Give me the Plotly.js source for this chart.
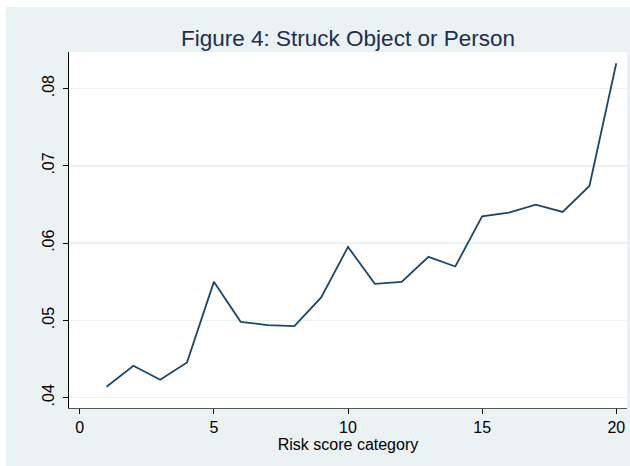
<!DOCTYPE html>
<html>
<head>
<meta charset="utf-8">
<script src="https://cdn.plot.ly/plotly-3.0.1.min.js"></script>
<style>
  html, body { margin: 0; padding: 0; background: #ffffff; }
  #chart { position: absolute; left: 6px; top: 7px; width: 624px; height: 459px; }
</style>
</head>
<body>
<div id="chart"></div>
<script>
const riskCategory = [1,2,3,4,5,6,7,8,9,10,11,12,13,14,15,16,17,18,19,20];
const struckRate = [0.04142,0.04413,0.04233,0.04457,0.05499,0.04982,0.04939,0.04926,0.05297,0.05951,
                    0.05473,0.05499,0.05822,0.05698,0.06348,0.06395,0.06499,0.06403,0.06739,0.08328];
const xTickVals = [0,5,10,15,20];
const yTickVals = [0.04,0.05,0.06,0.07,0.08];
const yTickText = [".04",".05",".06",".07",".08"];

const font = "'Liberation Sans', Arial, sans-serif";

Plotly.newPlot('chart', [{
  x: riskCategory,
  y: struckRate,
  type: 'scatter',
  mode: 'lines',
  line: {color: '#1a476f', width: 1.8},
  hoverinfo: 'skip'
}], {
  width: 624, height: 459,
  margin: {l: 63.3, r: 3.3, t: 44.7, b: 58, pad: 0},
  paper_bgcolor: '#eaf2f3',
  plot_bgcolor: '#ffffff',
  showlegend: false,
  font: {family: font, color: '#000000', size: 16},
  title: {
    text: 'Figure 4: Struck Object or Person',
    font: {family: font, size: 22.5, color: '#1e2d53'},
    x: 0.5, xref: 'paper', xanchor: 'center',
    y: 1, yref: 'paper', yanchor: 'bottom', pad: {b: 6}
  },
  xaxis: {
    range: [-0.4, 20.4],
    tickvals: xTickVals,
    ticktext: xTickVals.map(String),
    ticks: 'outside', ticklen: 5, tickcolor: '#000000', tickwidth: 1,
    showline: true, linecolor: '#555555', linewidth: 1.2,
    showgrid: false, zeroline: false,
    tickfont: {family: font, size: 16, color: '#000000'},
    title: {text: 'Risk score category', font: {family: font, size: 16, color: '#000000'}, standoff: 1}
  },
  yaxis: {
    range: [0.03867, 0.08473],
    tickvals: yTickVals,
    ticktext: yTickText,
    tickangle: -90,
    ticks: 'outside', ticklen: 5, tickcolor: '#000000', tickwidth: 1,
    ticklabelstandoff: 2,
    showline: true, linecolor: '#000000', linewidth: 1.2,
    showgrid: true, gridcolor: '#eaf2f3', gridwidth: 1.5,
    zeroline: false,
    tickfont: {family: font, size: 16, color: '#000000'}
  }
}, {displayModeBar: false, staticPlot: true});
</script>
</body>
</html>
